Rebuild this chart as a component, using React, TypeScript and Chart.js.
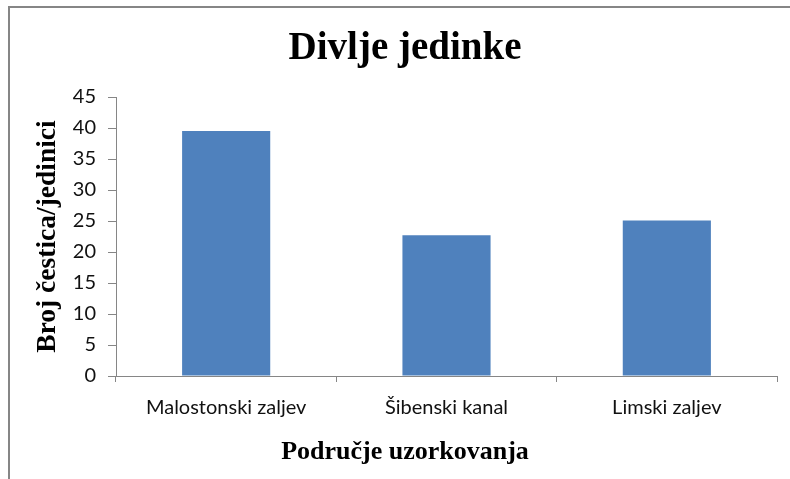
import React, { useEffect, useRef } from "react";
import { Chart, registerables } from "chart.js";

Chart.register(...registerables);

const categories = ["Malostonski zaljev", "Šibenski kanal", "Limski zaljev"];
const values = [39.5, 22.7, 25.1];
const yMin = 0;
const yMax = 45;
const yStep = 5;
const chartTitle = "Divlje jedinke";
const xTitle = "Područje uzorkovanja";
const yTitle = "Broj čestica/jedinici";

const framePlugin = {
  id: "frame",
  beforeDraw(chart: any) {
    const ctx = chart.ctx;
    ctx.save();
    ctx.fillStyle = "#868686";
    ctx.fillRect(8, 6, 2, chart.height);
    ctx.fillRect(8, 6, chart.width, 2);
    ctx.restore();
  },
};

export default function App() {
  const ref = useRef<HTMLCanvasElement | null>(null);

  useEffect(() => {
    document.body.style.margin = "0";
    document.body.style.overflow = "hidden";
    const canvas = ref.current!;
    const chart = new Chart(canvas, {
      type: "bar",
      data: {
        labels: categories,
        datasets: [
          {
            data: values,
            backgroundColor: "#4F81BD",
            borderWidth: 0,
            categoryPercentage: 1,
            barPercentage: 0.4,
          },
        ],
      },
      plugins: [framePlugin],
      options: {
        animation: false,
        responsive: false,
        devicePixelRatio: 1,
        layout: { padding: { left: 33, right: 31, top: 0, bottom: 0 } },
        plugins: {
          legend: { display: false },
          tooltip: { enabled: false },
          title: {
            display: true,
            text: chartTitle,
            color: "#000",
            font: { family: "'Liberation Serif'", size: 39, weight: "bold" },
            padding: { top: 26, bottom: 24.2 },
          },
          subtitle: {
            display: true,
            position: "bottom",
            text: xTitle,
            color: "#000",
            font: { family: "'Liberation Serif'", size: 26, weight: "bold" },
            padding: { top: 0, bottom: 11 },
          },
        },
        scales: {
          x: {
            grid: {
              display: true,
              drawOnChartArea: false,
              drawTicks: true,
              tickLength: 6,
              color: "#868686",
              offset: true,
            },
            border: { display: true, color: "#868686", width: 1 },
            ticks: {
              color: "#111",
              font: { family: "Lato", size: 20 },
              padding: 14,
              maxRotation: 0,
            },
            afterFit(scale: any) {
              scale.height = 60.8;
            },
          },
          y: {
            min: yMin,
            max: yMax,
            grid: {
              display: true,
              drawOnChartArea: false,
              drawTicks: true,
              tickLength: 8,
              color: "#868686",
            },
            border: { display: true, color: "#868686", width: 1 },
            ticks: {
              stepSize: yStep,
              color: "#111",
              font: { family: "Lato", size: 20 },
              padding: 12,
            },
            title: {
              display: true,
              text: yTitle,
              color: "#000",
              font: { family: "'Liberation Serif'", size: 27.5, weight: "bold", lineHeight: 0.9 },
              padding: { top: 3, bottom: 0 },
            },
            afterFit(scale: any) {
              scale.width = 83;
            },
          },
        },
      },
    } as any);
    return () => chart.destroy();
  }, []);

  return (
    <canvas
      ref={ref}
      width={808}
      height={479}
      style={{ position: "fixed", left: 0, top: 0, display: "block", width: 808, height: 479 }}
    />
  );
}
